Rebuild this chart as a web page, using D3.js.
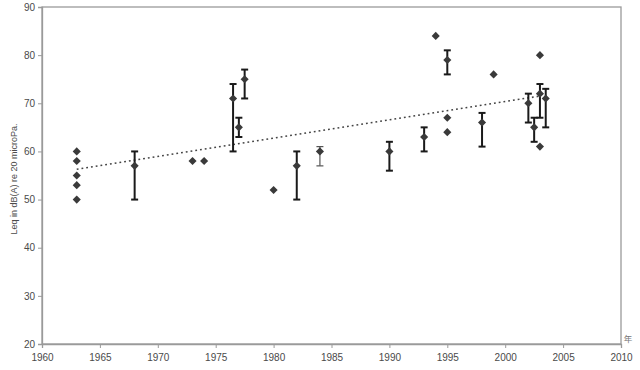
<!DOCTYPE html>
<html><head><meta charset="utf-8">
<script src="https://cdn.jsdelivr.net/npm/d3@7"></script>
<style>body{margin:0;background:#fff}svg{display:block}</style>
</head><body>
<script>
// Plain points (year, Leq)
const pointYears  = [1963,1963,1963,1963,1963,1973,1974,1980,1994,1995,1995,1999,2003,2003];
const pointValues = [60,58,55,53,50,58,58,52,84,67,64,76,80,61];
// Points with range bars
const barYears  = [1968,1976.5,1977,1977.5,1982,1984,1990,1993,1995,1998,2002,2002.5,2003,2003.5];
const barValues = [57,71,65,75,57,60,60,63,79,66,70,65,72,71];
const barHigh   = [60,74,67,77,60,61,62,65,81,68,72,67,74,73];
const barLow    = [50,60,63,71,50,57,56,60,76,61,66,62,67,65];
const barThin   = [false,false,false,false,false,true,false,false,false,false,false,false,false,false];
// Trend line endpoints
const trendYears  = [1963,2003];
const trendValues = [56.3,71.5];
const xTicks = [1960,1965,1970,1975,1980,1985,1990,1995,2000,2005,2010];
const yTicks = [20,30,40,50,60,70,80,90];
const yTitle = "Leq in dB(A) re 20 microPa.";
const xUnit = "年";

const W=640,H=370, L=42, R=621, T=7, B=344;
const svg=d3.select("body").append("svg").attr("width",W).attr("height",H);
const x=d3.scaleLinear().domain([1960,2010]).range([L,R]);
const y=d3.scaleLinear().domain([20,90]).range([B,T]);
const axisCol="#9a9a9a", textCol="#4a4a4a";
const font="'Liberation Sans', Arial, sans-serif";

// frame
svg.append("rect").attr("x",L).attr("y",T).attr("width",R-L).attr("height",B-T)
  .attr("fill","none").attr("stroke",axisCol).attr("stroke-width",1.3);

const gx=svg.append("g").attr("transform",`translate(0,${B})`)
  .call(d3.axisBottom(x).tickValues(xTicks).tickFormat(d3.format("d")).tickSize(4).tickPadding(6));
const gy=svg.append("g").attr("transform",`translate(${L},0)`)
  .call(d3.axisLeft(y).tickValues(yTicks).tickSize(4).tickPadding(3));
[gx,gy].forEach(g=>{
  g.select(".domain").attr("stroke",axisCol).attr("stroke-width",1.3);
  g.selectAll(".tick line").attr("stroke",axisCol);
  g.selectAll(".tick text").attr("fill",textCol).attr("font-family",font).attr("font-size",10);
});

// y title
svg.append("text").attr("transform",`translate(17,179) rotate(-90)`)
  .attr("text-anchor","middle").attr("font-family",font).attr("font-size",9).attr("fill",textCol)
  .text(yTitle);
svg.append("text").attr("x",628).attr("y",342).attr("text-anchor","middle")
  .attr("font-family","'Noto Sans CJK SC', sans-serif").attr("font-size",8.5).attr("fill","#777").text(xUnit);

// trend line
const trend=trendYears.map((d,i)=>[d,trendValues[i]]);
svg.append("path").attr("d",d3.line().x(d=>x(d[0])).y(d=>y(d[1]))(trend))
  .attr("fill","none").attr("stroke","#444").attr("stroke-width",1.6).attr("stroke-dasharray","1.8,3");

// error bars
const bars=barYears.map((d,i)=>({x:d,v:barValues[i],hi:barHigh[i],lo:barLow[i],thin:barThin[i]}));
const gb=svg.append("g");
bars.forEach(b=>{
  const sw=b.thin?1.2:2, col=b.thin?"#555":"#1a1a1a", cw=3.5;
  gb.append("line").attr("x1",x(b.x)).attr("x2",x(b.x)).attr("y1",y(b.hi)).attr("y2",y(b.lo)).attr("stroke",col).attr("stroke-width",sw);
  [b.hi,b.lo].forEach(v=>gb.append("line").attr("x1",x(b.x)-cw).attr("x2",x(b.x)+cw).attr("y1",y(v)).attr("y2",y(v)).attr("stroke",col).attr("stroke-width",sw));
});

// diamonds
const diamond=d3.symbol().type(d3.symbolDiamond2).size(42);
const pts=pointYears.map((d,i)=>[d,pointValues[i]]).concat(bars.map(b=>[b.x,b.v]));
svg.append("g").selectAll("path").data(pts).join("path")
  .attr("transform",d=>`translate(${x(d[0])},${y(d[1])})`).attr("d",diamond).attr("fill","#3a3a3a");
</script>
</body></html>
